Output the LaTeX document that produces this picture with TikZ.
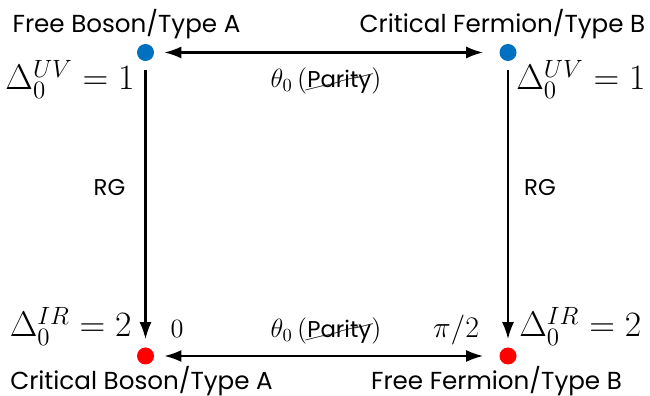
\RequirePackage{fix-cm}
\documentclass[tikz,border=0pt]{standalone}
\usepackage{amsmath,amssymb}
\usepackage{cancel}
\usepackage[no-math]{fontspec}
\setmainfont{Poppins}
\usetikzlibrary{arrows.meta}

\definecolor{uvblue}{RGB}{0,112,192}
\definecolor{irred}{RGB}{255,0,0}
\newcommand{\noparity}{\cancel{\text{\fontsize{13}{15}\selectfont Parity}}}

\begin{document}
\begin{tikzpicture}[
  fixpt/.style={circle,inner sep=0pt,minimum size=0.34cm},
  flow/.style={-{Latex[length=0.34cm,width=0.24cm]},line width=1.15pt},
  dual/.style={{Latex[length=0.34cm,width=0.24cm]}-{Latex[length=0.34cm,width=0.24cm]},line width=1.15pt},
  theory/.style={font=\fontsize{14}{16}\selectfont,inner sep=0pt,anchor=base},
  dimlab/.style={font=\fontsize{20.3}{24}\selectfont,inner sep=0pt},
  coup/.style={font=\fontsize{15}{17}\selectfont,inner sep=0pt,anchor=base},
  rglab/.style={font=\fontsize{13}{15}\selectfont,inner sep=0pt}
]
\useasboundingbox (0,0) rectangle (13,7.92);
% fixed points
\node[fixpt,fill=uvblue] (fb) at (2.91,6.87) {};
\node[fixpt,fill=uvblue] (cf) at (10.16,6.87) {};
\node[fixpt,fill=irred] (cb) at (2.91,0.8) {};
\node[fixpt,fill=irred] (ff) at (10.16,0.8) {};
% dualities and RG flows
\draw[dual,shorten <=0.2cm,shorten >=0.32cm] (fb) -- (cf);
\draw[dual,shorten <=0.2cm,shorten >=0.32cm] (cb) -- (ff);
\draw[flow,shorten <=0.18cm,shorten >=0.16cm] (fb) -- (cb);
\draw[flow,shorten <=0.18cm,shorten >=0.16cm] (cf) -- (ff);
% theory names
\node[theory] (fbname) at (2.53,7.26) {Free Boson/Type A};
\node[theory] (cfname) at (10.05,7.26) {Critical Fermion/Type B};
\node[theory] (cbname) at (2.83,0.12) {Critical Boson/Type A};
\node[theory] (ffname) at (9.93,0.12) {Free Fermion/Type B};
% scaling dimensions
\node[dimlab,anchor=base east] (fbdim) at (2.7,6.12) {$\Delta_0^{UV}=1$};
\node[dimlab,anchor=base west] (cfdim) at (10.32,6.12) {$\Delta_0^{UV}=1$};
\node[dimlab,anchor=base east] (cbdim) at (2.64,1.18) {$\Delta_0^{IR}=2$};
\node[dimlab,anchor=base west] (ffdim) at (10.38,1.18) {$\Delta_0^{IR}=2$};
% couplings
\node[coup] (toptheta) at (6.52,6.16) {$\theta_0\,(\noparity)$};
\node[coup] (bottheta) at (6.52,1.16) {$\theta_0\,(\noparity)$};
\node[coup] (zero) at (3.54,1.16) {$0$};
\node[coup,font=\fontsize{17}{19}\selectfont] (halfpi) at (9.12,1.16) {$\pi/2$};
\node[rglab] (rgleft) at (2.19,4.17) {RG};
\node[rglab] (rgright) at (10.8,4.17) {RG};
\end{tikzpicture}
\end{document}
